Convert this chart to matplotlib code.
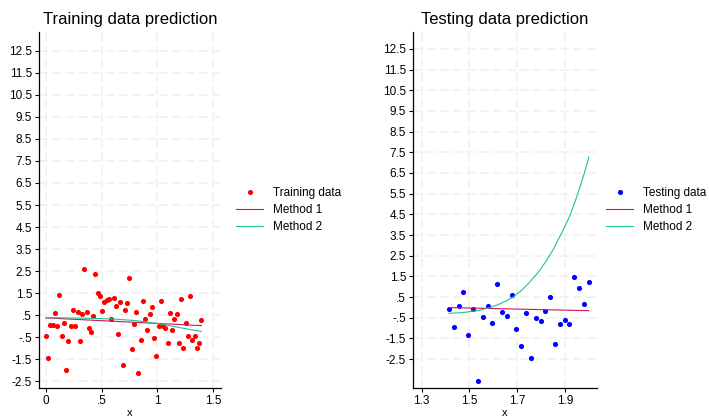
import matplotlib
matplotlib.use("Agg")
import matplotlib.pyplot as plt

plt.rcParams['font.family'] = ['Liberation Sans', 'DejaVu Sans']

# training sample (first 70 points of the grid)
train_x = [0.000, 0.020, 0.040, 0.061, 0.081, 0.101, 0.121, 0.141, 0.162, 0.182,
           0.202, 0.222, 0.242, 0.263, 0.283, 0.303, 0.323, 0.343, 0.364, 0.384,
           0.404, 0.424, 0.444, 0.465, 0.485, 0.505, 0.525, 0.545, 0.566, 0.586,
           0.606, 0.626, 0.646, 0.667, 0.687, 0.707, 0.727, 0.747, 0.768, 0.788,
           0.808, 0.828, 0.848, 0.869, 0.889, 0.909, 0.929, 0.949, 0.970, 0.990,
           1.010, 1.030, 1.051, 1.071, 1.091, 1.111, 1.131, 1.152, 1.172, 1.192,
           1.212, 1.232, 1.253, 1.273, 1.293, 1.313, 1.333, 1.354, 1.374, 1.394]
train_y = [-0.46, -1.42, 0.05, 0.08, 0.60, -0.01, 1.43, -0.42, 0.15, -2.00,
           -0.69, 0.02, 0.76, 0.00, 0.67, -0.66, 0.56, 2.59, 0.65, -0.07,
           -0.28, 0.47, 2.38, 1.51, 1.39, 0.68, 1.09, 1.18, 1.22, 0.33,
           1.30, 0.92, -0.34, 1.09, -1.76, 0.73, 1.06, 2.20, -1.05, 0.09,
           0.64, -2.13, -0.60, 1.16, 0.33, -0.19, 0.56, 0.88, -0.52, -1.33,
           0.03, 1.15, -0.01, -0.06, -0.76, 0.62, -0.15, 0.33, 0.55, -0.76,
           1.24, -0.97, 0.15, -0.42, 1.37, -0.60, -0.42, -1.00, -0.75, 0.30]

# testing sample (last 30 points)
test_x = [1.414, 1.434, 1.455, 1.475, 1.495, 1.515, 1.535, 1.556, 1.576, 1.596,
          1.616, 1.636, 1.657, 1.677, 1.697, 1.717, 1.737, 1.758, 1.778, 1.798,
          1.818, 1.838, 1.859, 1.879, 1.899, 1.919, 1.939, 1.960, 1.980, 2.000]
test_y = [-0.08, -0.95, 0.05, 0.73, -1.36, -0.08, -3.54, -0.45, 0.06, -0.74,
          1.11, -0.23, -0.44, 0.60, -1.05, -1.89, -0.26, -2.46, -0.50, -0.66,
          -0.16, 0.52, -1.75, -0.81, -0.63, -0.79, 1.45, 0.92, 0.18, 1.21]

# fitted values
m1_train_x = [0.000, 1.394]
m1_train_y = [0.38, 0.03]
m1_test_x = [1.414, 2.000]
m1_test_y = [-0.01, -0.16]

m2_train_x = [0.000, 0.200, 0.400, 0.600, 0.800, 1.000, 1.200, 1.394]
m2_train_y = [0.39, 0.38, 0.36, 0.33, 0.26, 0.13, -0.06, -0.24]
m2_test_x = [1.414, 1.473, 1.543, 1.580, 1.613, 1.650, 1.683, 1.720, 1.753, 1.790,
             1.823, 1.850, 1.872, 1.898, 1.921, 1.942, 1.963, 1.982, 2.000]
m2_test_y = [-0.29, -0.25, -0.14, -0.03, 0.10, 0.29, 0.50, 0.84, 1.23, 1.72,
             2.27, 2.78, 3.28, 3.86, 4.45, 5.10, 5.82, 6.52, 7.27]

ytick_vals = [-2.5, -1.5, -0.5, 0.5, 1.5, 2.5, 3.5, 4.5, 5.5, 6.5, 7.5, 8.5, 9.5, 10.5, 11.5, 12.5]
ytick_labels = ['-2.5', '-1.5', '-.5', '.5', '1.5', '2.5', '3.5', '4.5', '5.5',
                '6.5', '7.5', '8.5', '9.5', '10.5', '11.5', '12.5']
train_xticks = [0, 0.5, 1, 1.5]
train_xlabels = ['0', '.5', '1', '1.5']
test_xticks = [1.3, 1.5, 1.7, 1.9]
test_xlabels = ['1.3', '1.5', '1.7', '1.9']

c_m1 = '#d41159'
c_m2 = '#1dc48e'
fs = 8.5

fig = plt.figure(figsize=(7.09, 4.2), dpi=100)
ax1 = fig.add_axes([0.055, 0.0762, 0.2567, 0.8476])
ax2 = fig.add_axes([0.5825, 0.0762, 0.2591, 0.8476])


def style(ax, xt, xl):
    ax.set_yticks(ytick_vals)
    ax.set_yticklabels(ytick_labels)
    ax.set_xticks(xt)
    ax.set_xticklabels(xl)
    ax.grid(True, color='#f1f1f1', linestyle=(0, (5.5, 2.5)), linewidth=1.2)
    ax.set_axisbelow(True)
    for s in ['top', 'right']:
        ax.spines[s].set_visible(False)
    for s in ['left', 'bottom']:
        ax.spines[s].set_linewidth(0.9)
    ax.tick_params(direction='out', length=3, width=0.8, labelsize=fs, pad=2)
    ax.set_xlabel('x', fontsize=8, labelpad=0.5)


ax1.plot(train_x, train_y, 'o', color='red', ms=3.7, mec='none', label='Training data')
ax1.plot(m1_train_x, m1_train_y, color=c_m1, lw=0.8, label='Method 1')
ax1.plot(m2_train_x, m2_train_y, color=c_m2, lw=0.8, label='Method 2')
ax1.set_xlim(-0.0625, 1.57)
ax1.set_ylim(-2.8, 13.35)
style(ax1, train_xticks, train_xlabels)
ax1.set_title('Training data prediction', fontsize=12, pad=6)
ax1.legend(loc='center left', bbox_to_anchor=(0.318, 0.5), bbox_transform=fig.transFigure,
           frameon=False, fontsize=fs, handlelength=2.3, handletextpad=0.8,
           labelspacing=0.45, numpoints=1)

ax2.plot(test_x, test_y, 'o', color='blue', ms=3.7, mec='none', label='Testing data')
ax2.plot(m1_test_x, m1_test_y, color=c_m1, lw=0.8, label='Method 1')
ax2.plot(m2_test_x, m2_test_y, color=c_m2, lw=0.8, label='Method 2')
ax2.set_xlim(1.2635, 2.033)
ax2.set_ylim(-3.9, 13.32)
style(ax2, test_xticks, test_xlabels)
ax2.set_title('Testing data prediction', fontsize=12, pad=6)
ax2.legend(loc='center left', bbox_to_anchor=(0.84, 0.5), bbox_transform=fig.transFigure,
           frameon=False, fontsize=fs, handlelength=2.3, handletextpad=0.8,
           labelspacing=0.45, numpoints=1)

fig.savefig('out.png', dpi=100)
